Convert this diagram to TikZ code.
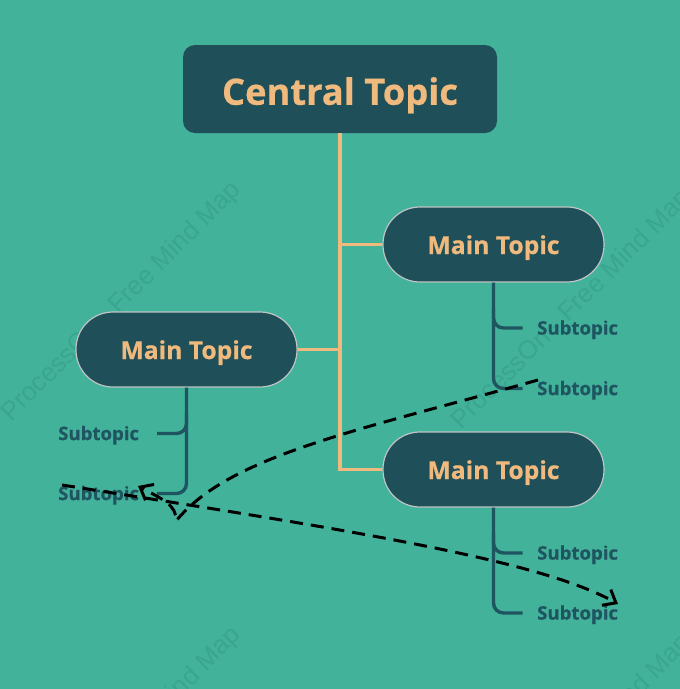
\documentclass[tikz,border=0pt]{standalone}
\usepackage{fontspec}
\setmainfont{Open Sans}[BoldFeatures={FakeBold=0.6}]
\newfontfamily\wmfont{Liberation Sans}
\usetikzlibrary{arrows.meta}
\definecolor{bg}{HTML}{42B29B}
\definecolor{boxfill}{HTML}{1F4F58}
\definecolor{accent}{HTML}{F0B97D}
\definecolor{subcol}{HTML}{1F5560}
\definecolor{boxedge}{HTML}{BFC4C4}
\definecolor{wm}{HTML}{3BA68F}
\begin{document}
\begin{tikzpicture}[x=1pt,y=-1pt,
 centralbox/.style={fill=boxfill, rounded corners=12pt, minimum width=314pt, minimum height=88pt, inner sep=0pt, text=accent, text height=31.5pt, text depth=0pt, font=\fontsize{36.3}{40}\selectfont\bfseries},
 mainbox/.style={fill=boxfill, draw=boxedge, line width=1.2pt, rounded corners=37pt, minimum width=221pt, minimum height=75pt, inner sep=0pt, text=accent, text height=19pt, text depth=0pt, font=\fontsize{24.7}{28}\selectfont\bfseries},
 sublabel/.style={inner sep=0pt, text=subcol, text height=13.2pt, text depth=0pt, font=\fontsize{18.6}{22}\selectfont\bfseries},
 trunk/.style={draw=accent, line width=3.4pt},
 twig/.style={draw=subcol, line width=3.4pt, rounded corners=10pt},
 relation/.style={draw=black, line width=3pt, dash pattern=on 13pt off 8pt, -{Straight Barb[length=11pt,width=18pt]}},
 watermark/.style={text=wm, font=\wmfont\fontsize{26}{30}\selectfont, rotate=45}
]
\fill[bg] (0,0) rectangle (680,689);
\useasboundingbox (0,0) rectangle (680,689);
\begin{scope}
\clip (0,0) rectangle (680,689);
\node[watermark] (wm1) at (122,302) {ProcessOn - Free Mind Map};
\node[watermark] (wm2) at (572,310) {ProcessOn - Free Mind Map};
\node[watermark] (wm3) at (122,747) {ProcessOn - Free Mind Map};
\node[watermark] (wm4) at (572,755) {ProcessOn - Free Mind Map};
\end{scope}

\node[centralbox] (central) at (340,89) {Central Topic};
\node[mainbox] (mA) at (493.5,244.5) {Main Topic};
\node[mainbox] (mB) at (186.5,349.5) {Main Topic};
\node[mainbox] (mC) at (493.5,469.5) {Main Topic};

\draw[trunk] (central.south) |- (mC.west);
\draw[trunk] (mA.west) -- (mA.west -| central.south);
\draw[trunk] (mB.east) -- (mB.east -| central.south);

\node[sublabel, anchor=west] (sA1) at (537,328) {Subtopic};
\node[sublabel, anchor=west] (sA2) at (537,388.5) {Subtopic};
\node[sublabel, anchor=west] (sB1) at (58,433.5) {Subtopic};
\node[sublabel, anchor=west] (sB2) at (58,493.5) {Subtopic};
\node[sublabel, anchor=west] (sC1) at (537,553) {Subtopic};
\node[sublabel, anchor=west] (sC2) at (537,613) {Subtopic};

\coordinate (jA1) at (mA.south |- sA1.west);
\coordinate (jA2) at (mA.south |- sA2.west);
\coordinate (jB1) at (mB.south |- sB1.west);
\coordinate (jB2) at (mB.south |- sB2.west);
\coordinate (jC1) at (mC.south |- sC1.west);
\coordinate (jC2) at (mC.south |- sC2.west);

\draw[twig] (mA.south) -- (jA2) -- ([xshift=29pt]jA2);
\draw[twig] ([yshift=20pt]jA1) -- (jA1) -- ([xshift=29pt]jA1);
\draw[twig] (mB.south) -- (jB2) -- ([xshift=-29.5pt]jB2);
\draw[twig] ([yshift=20pt]jB1) -- (jB1) -- ([xshift=-29.5pt]jB1);
\draw[twig] (mC.south) -- (jC2) -- ([xshift=29pt]jC2);
\draw[twig] ([yshift=20pt]jC1) -- (jC1) -- ([xshift=29pt]jC1);

\coordinate (r1s) at (62,485);
\coordinate (r1e) at (618,604);
\coordinate (r2s) at (538,380);
\coordinate (r2m) at (176,521);
\coordinate (r2e) at (138,486);
\draw[relation] (r1s) .. controls (350,530) and (540,560) .. (r1e);
\draw[relation] (r2s) .. controls (360,430) and (230,455) .. (r2m) .. controls (177,505) and (162,499) .. (r2e);
\end{tikzpicture}
\end{document}
